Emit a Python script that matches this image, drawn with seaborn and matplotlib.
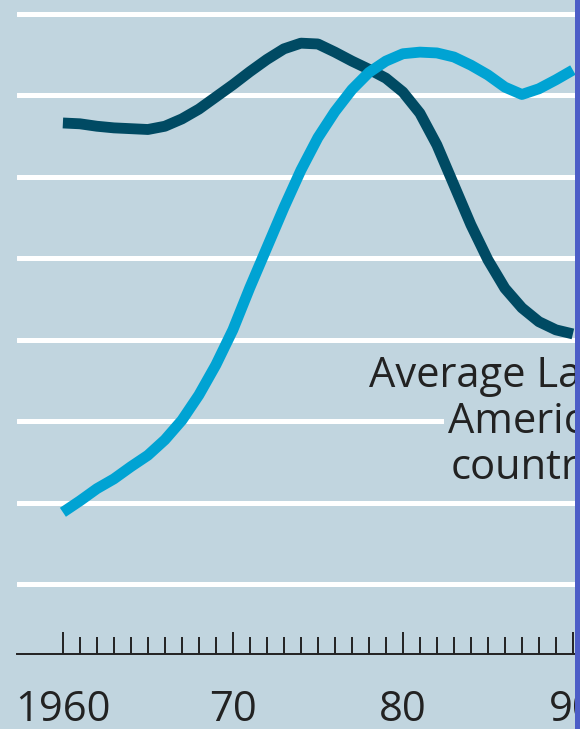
import pandas as pd
import seaborn as sns
import matplotlib.pyplot as plt
from matplotlib.patches import Rectangle

# valores (escala arbitraria, linhas de grade a cada 10)
anos = list(range(1960, 1991))
serie_escura = [56.6, 56.5, 56.2, 56.0, 55.9, 55.8, 56.2, 57.1, 58.3, 59.8,
                61.3, 62.9, 64.4, 65.7, 66.4, 66.3, 65.3, 64.2, 63.2, 62.1,
                60.4, 57.8, 53.9, 49.0, 44.1, 39.8, 36.3, 33.9, 32.2, 31.2, 30.7]
serie_clara = [8.8, 10.2, 11.7, 12.9, 14.4, 15.8, 17.7, 20.1, 23.2, 26.9,
               31.2, 36.4, 41.3, 46.2, 50.8, 54.8, 58.0, 60.7, 62.8, 64.2,
               65.1, 65.3, 65.2, 64.7, 63.7, 62.5, 61.0, 60.1, 60.8, 61.9, 63.1]
grade = [0, 10, 20, 30, 40, 50, 60, 70]
rotulos_x = ['1960', '70', '80', '90']
texto_linhas = ['Average Latin', 'American', 'countries']

fundo = '#c1d5df'
df = pd.DataFrame({
    'ano': anos * 2,
    'valor': serie_escura + serie_clara,
    'serie': ['escura'] * len(anos) + ['clara'] * len(anos),
})

sns.set_style('white')
plt.rcParams['font.family'] = ['Open Sans', 'DejaVu Sans']

fig = plt.figure(figsize=(5.8, 7.29), dpi=100, facecolor=fundo)
ax = fig.add_axes([17 / 580, 75 / 729, 1 - 17 / 580, 654 / 729])
ax.set_facecolor(fundo)

for g in grade:
    ax.axhline(g, color='white', lw=3.6, zorder=1)

sns.lineplot(data=df, x='ano', y='valor', hue='serie',
             palette={'escura': '#004a63', 'clara': '#00a3d3'},
             lw=7.8, legend=False, ax=ax, zorder=3)
for ln in ax.lines[len(grade):]:
    ln.set_solid_capstyle('butt')
    ln.set_solid_joinstyle('round')

ax.set_xlim(1957.3, 1957.3 + 563 / 17)
ax.set_ylim(-8.6, 71.7)
ax.set_xticks([1960, 1970, 1980, 1990])
ax.set_xticklabels(rotulos_x)
ax.set_xticks(range(1960, 1991), minor=True)
ax.tick_params(axis='x', which='both', bottom=True)
ax.tick_params(axis='x', which='major', direction='in', length=16, width=1.4,
               color='#222222', labelsize=30, labelcolor='#222222', pad=25)
ax.tick_params(axis='x', which='minor', direction='in', length=12, width=1.4,
               color='#222222')
ax.set_yticks([])
ax.set_xlabel('')
ax.set_ylabel('')
for lado in ['left', 'right', 'top']:
    ax.spines[lado].set_visible(False)
ax.spines['bottom'].set_color('#222222')
ax.spines['bottom'].set_linewidth(1.4)

for i, t in enumerate(texto_linhas):
    ax.text(1993.5, 24.2 - i * 5.65, t, ha='right', va='baseline', fontsize=30,
            color='#222222', zorder=2,
            bbox=dict(facecolor=fundo, edgecolor='none', pad=3))

fig.patches.append(Rectangle((575 / 580, 0), 5 / 580, 1, transform=fig.transFigure,
                             facecolor='#4c5dc7', edgecolor='none', zorder=10))

fig.savefig('out.png', dpi=100, facecolor=fundo)
